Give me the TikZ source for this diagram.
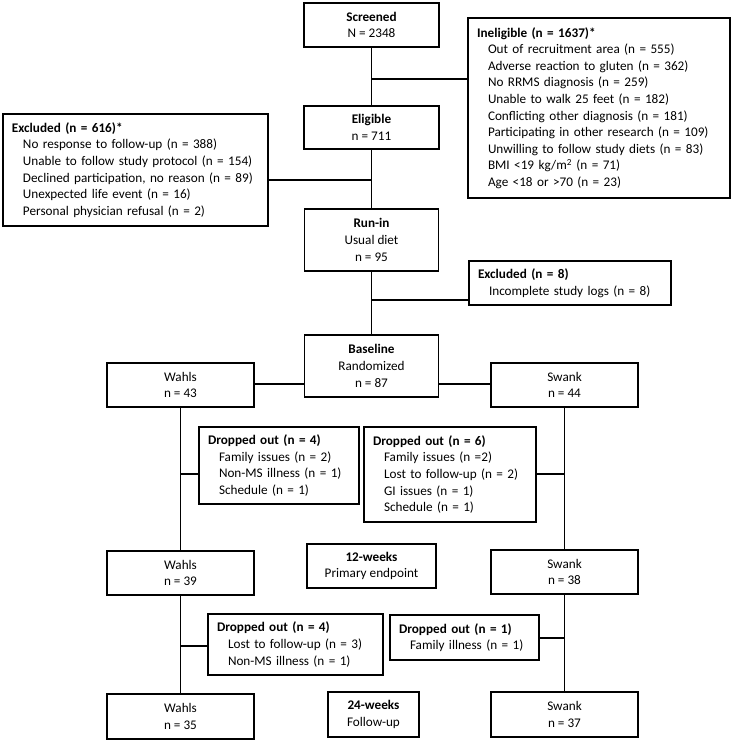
\documentclass[tikz,border=0pt]{standalone}
\usepackage{fontspec}
\setmainfont{Carlito}
\newcommand{\itm}{\hspace*{11pt}}
\begin{document}
\begin{tikzpicture}[x=1pt,y=-1pt,
  bx/.style={draw, line width=1.8pt, inner xsep=9pt, inner ysep=0pt,
    font=\fontsize{13.2}{16.6}\selectfont},
  cbx/.style={bx, align=center},
  lbx/.style={bx, align=left},
  ln/.style={line width=1.8pt}]
\useasboundingbox (0,0) rectangle (733,741);

% main column
\node[cbx, minimum width=135pt, minimum height=44pt] (scr) at (371.5,25) {\textbf{Screened}\\N = 2348};
\node[cbx, minimum width=135pt, minimum height=43pt] (elig) at (371.5,127.5) {\textbf{Eligible}\\n = 711};
\node[cbx, minimum width=134pt, minimum height=62pt] (runin) at (371.5,240) {\textbf{Run-in}\\Usual diet\\n = 95};
\node[cbx, minimum width=134pt, minimum height=62pt] (base) at (371.5,366) {\textbf{Baseline}\\Randomized\\n = 87};

% side boxes top
\node[lbx, text width=244pt, minimum height=180pt] (inel) at (599,108) {\textbf{Ineligible (n = 1637)*}\\
\itm Out of recruitment area (n = 555)\\
\itm Adverse reaction to gluten (n = 362)\\
\itm No RRMS diagnosis (n = 259)\\
\itm Unable to walk 25 feet (n = 182)\\
\itm Conflicting other diagnosis (n = 181)\\
\itm Participating in other research (n = 109)\\
\itm Unwilling to follow study diets (n = 83)\\
\itm BMI <19 kg/m\textsuperscript{2} (n = 71)\\
\itm Age <18 or >70 (n = 23)};
\node[lbx, text width=247pt, minimum height=112pt] (exc1) at (135.5,170) {\textbf{Excluded (n = 616)*}\\
\itm No response to follow-up (n = 388)\\
\itm Unable to follow study protocol (n = 154)\\
\itm Declined participation, no reason (n = 89)\\
\itm Unexpected life event (n = 16)\\
\itm Personal physician refusal (n = 2)};
\node[lbx, text width=184pt, minimum height=44pt] (exc2) at (570,283) {\textbf{Excluded (n = 8)}\\
\itm Incomplete study logs (n = 8)};

% arms
\node[cbx, minimum width=147pt, minimum height=44pt] (w1) at (180.5,385) {Wahls\\n = 43};
\node[cbx, minimum width=147pt, minimum height=44pt] (s1) at (564.5,385) {Swank\\n = 44};
\node[lbx, text width=142pt, minimum height=77pt] (d1) at (279,465.5) {\textbf{Dropped out (n = 4)}\\
\itm Family issues (n = 2)\\
\itm Non-MS illness (n = 1)\\
\itm Schedule (n = 1)};
\node[lbx, text width=154pt, minimum height=95pt] (d2) at (450,474.5) {\textbf{Dropped out (n = 6)}\\
\itm Family issues (n =2)\\
\itm Lost to follow-up (n = 2)\\
\itm GI issues (n = 1)\\
\itm Schedule (n = 1)};
\node[cbx, minimum width=129pt, minimum height=44pt] (wk12) at (371.5,566) {\textbf{12-weeks}\\Primary endpoint};
\node[cbx, minimum width=147pt, minimum height=44pt] (w2) at (180.5,573) {Wahls\\n = 39};
\node[cbx, minimum width=147pt, minimum height=44pt] (s2) at (564.5,572) {Swank\\n = 38};
\node[lbx, text width=157pt, minimum height=61pt] (d3) at (295.5,644.5) {\textbf{Dropped out (n = 4)}\\
\itm Lost to follow-up (n = 3)\\
\itm Non-MS illness (n = 1)};
\node[lbx, text width=131pt, minimum height=45pt] (d4) at (464.5,637.5) {\textbf{Dropped out (n = 1)}\\
\itm Family illness (n = 1)};
\node[cbx, minimum width=147pt, minimum height=45pt] (w3) at (180.5,716.5) {Wahls\\n = 35};
\node[cbx, minimum width=91pt, minimum height=45pt] (wk24) at (373.5,714.5) {\textbf{24-weeks}\\Follow-up};
\node[cbx, minimum width=147pt, minimum height=45pt] (s3) at (564.5,714.5) {Swank\\n = 37};

% connectors main column
\draw[ln] (scr.south) -- (elig.north);
\draw[ln] (elig.south) -- (runin.north);
\draw[ln] (runin.south) -- (base.north);
\coordinate (j1) at (371.5,79);
\draw[ln] (j1) -- (j1 -| inel.west);
\coordinate (j2) at (371.5,180);
\draw[ln] (j2) -- (j2 -| exc1.east);
\coordinate (j3) at (371.5,300);
\draw[ln] (j3) -- (j3 -| exc2.west);
\coordinate (jb) at (371.5,384);
\draw[ln] (jb -| base.west) -- (jb -| w1.east);
\draw[ln] (jb -| base.east) -- (jb -| s1.west);

% Wahls arm
\draw[ln] (w1.south) -- (w2.north);
\draw[ln] (w2.south) -- (w3.north);
\coordinate (jw1) at (180.5,474);
\draw[ln] (jw1) -- (jw1 -| d1.west);
\coordinate (jw2) at (180.5,646);
\draw[ln] (jw2) -- (jw2 -| d3.west);

% Swank arm
\draw[ln] (s1.south) -- (s2.north);
\draw[ln] (s2.south) -- (s3.north);
\coordinate (js1) at (564.5,474);
\draw[ln] (js1) -- (js1 -| d2.east);
\coordinate (js2) at (564.5,638);
\draw[ln] (js2) -- (js2 -| d4.east);
\end{tikzpicture}
\end{document}
